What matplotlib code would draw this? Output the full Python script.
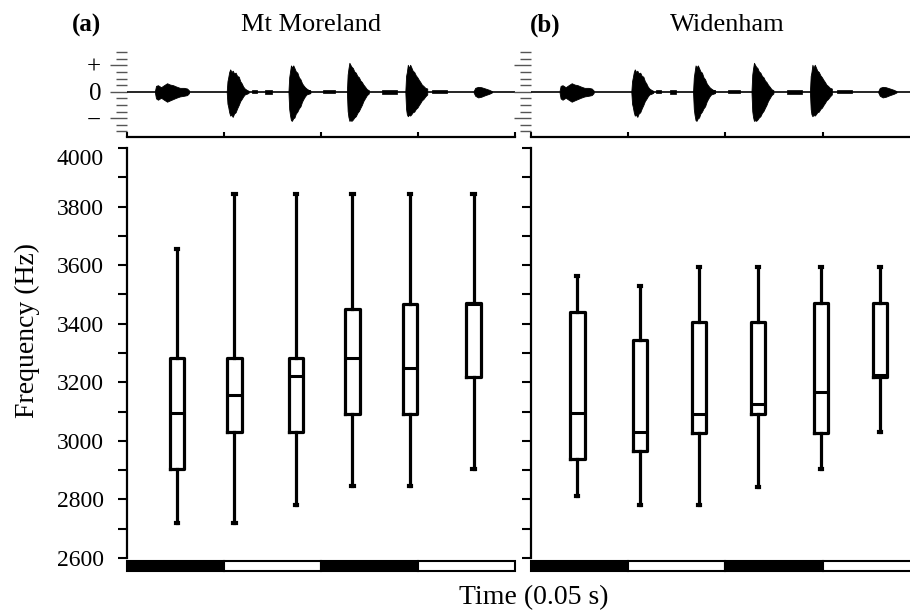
import matplotlib.pyplot as plt
import matplotlib.transforms as mtransforms
import numpy as np

plt.rcParams['font.family'] = ['Liberation Serif', 'DejaVu Serif']

# ---------------- data ----------------
sites = ['Mt Moreland', 'Widenham']
panel_tags = ['(a)', '(b)']

# box positions (s) and five-number summaries (Hz)
moreland_pos = [0.0258, 0.0555, 0.0873, 0.1163, 0.1460, 0.1787]
moreland_lo = [2720, 2720, 2780, 2845, 2845, 2905]
moreland_q1 = [2905, 3030, 3030, 3092, 3092, 3218]
moreland_med = [3095, 3155, 3220, 3282, 3250, 3466]
moreland_q3 = [3282, 3282, 3282, 3450, 3467, 3472]
moreland_hi = [3655, 3843, 3843, 3843, 3843, 3843]

widenham_pos = [0.0237, 0.0560, 0.0864, 0.1167, 0.1492, 0.1797]
widenham_lo = [2812, 2781, 2781, 2842, 2904, 3029]
widenham_q1 = [2937, 2966, 3028, 3092, 3028, 3219]
widenham_med = [3094, 3029, 3092, 3125, 3168, 3225]
widenham_q3 = [3439, 3345, 3407, 3407, 3470, 3470]
widenham_hi = [3563, 3530, 3593, 3593, 3593, 3593]

# time bar under the boxes (0.05 s per segment)
bar_colors = ['black', 'white', 'black', 'white']

# waveform envelope of the six notes: times (s), upper and lower amplitude
note_t = [
    [.0146, .0151, .0161, .0177, .0192, .0208, .0223, .0239, .0255, .0274, .0295, .0311, .0321],
    [.0515, .0519, .0523, .0528, .0533, .0540, .0546, .0553, .0561, .0569, .0577, .0585, .0592, .0600, .0608, .0618, .0628],
    [.0833, .0837, .0841, .0846, .0851, .0858, .0864, .0871, .0879, .0887, .0895, .0903, .0910, .0918, .0926, .0936, .0946],
    [.1134, .1138, .1142, .1147, .1152, .1158, .1165, .1172, .1180, .1188, .1196, .1204, .1211, .1219, .1227, .1237, .1247],
    [.1435, .1439, .1443, .1448, .1453, .1460, .1466, .1473, .1481, .1489, .1497, .1505, .1512, .1520, .1528, .1538, .1548],
    [.1787, .1795, .1810, .1826, .1847, .1867, .1881],
]
note_up = [
    [0.2, 0.9, 1.0, 0.7, 1.0, 1.3, 1.1, 1.0, 0.8, 0.6, 0.6, 0.5, 0.2],
    [0.0, 1.6, 2.2, 3.0, 3.4, 3.0, 3.2, 2.8, 2.9, 2.4, 2.3, 1.6, 1.3, 0.8, 0.5, 0.3, 0.15],
    [0.0, 2.2, 3.0, 4.0, 3.7, 4.0, 3.6, 3.1, 2.9, 2.2, 1.9, 1.3, 1.0, 0.7, 0.5, 0.3, 0.2],
    [0.0, 2.6, 3.5, 4.4, 4.1, 3.8, 3.6, 3.1, 2.9, 2.4, 2.2, 1.7, 1.5, 1.1, 0.8, 0.4, 0.25],
    [0.0, 2.4, 3.0, 4.1, 3.6, 4.1, 3.7, 3.2, 3.0, 2.5, 2.2, 1.8, 1.5, 1.1, 0.9, 0.6, 0.5],
    [0.1, 0.6, 0.75, 0.7, 0.5, 0.3, 0.1],
]
note_lo = [
    [0.2, 1.0, 1.2, 0.9, 1.2, 1.5, 1.3, 1.1, 0.9, 0.7, 0.6, 0.5, 0.2],
    [0.0, 1.8, 2.3, 3.1, 3.6, 3.5, 3.8, 3.3, 3.1, 2.5, 2.0, 1.4, 1.1, 0.7, 0.4, 0.3, 0.15],
    [0.0, 2.6, 3.5, 4.3, 4.4, 4.0, 3.9, 3.3, 3.0, 2.5, 2.2, 1.5, 1.1, 0.7, 0.4, 0.3, 0.2],
    [0.0, 2.9, 3.8, 4.4, 4.3, 4.4, 4.2, 3.9, 3.7, 3.2, 2.9, 2.4, 2.0, 1.4, 1.0, 0.5, 0.25],
    [0.0, 2.6, 3.4, 3.7, 3.5, 3.6, 3.4, 3.1, 3.0, 2.6, 2.4, 2.0, 1.7, 1.3, 1.1, 0.7, 0.4],
    [0.1, 0.6, 0.85, 0.75, 0.5, 0.3, 0.1],
]
# small noise bursts between notes: start, end, amplitude
bits_t0 = [.0644, .0713, .0893, .1012, .1316, .1574]
bits_t1 = [.0670, .0747, .0945, .1073, .1393, .1651]
bits_amp = [0.25, 0.35, 0.25, 0.25, 0.3, 0.25]

# ---------------- figure ----------------
fig = plt.figure(figsize=(9.1, 6.15), dpi=100)
W, H = 910.0, 615.0

panel_x0 = [126.7, 531.3]
panel_w = 388.3
box_data = [
    (moreland_pos, moreland_lo, moreland_q1, moreland_med, moreland_q3, moreland_hi),
    (widenham_pos, widenham_lo, widenham_q1, widenham_med, widenham_q3, widenham_hi),
]
title_x = [310.8, 727.5]
tag_x = [86.7, 545]

for k in range(2):
    x0 = panel_x0[k] / W
    w = panel_w / W

    # ---- box plot axes ----
    ax = fig.add_axes([x0, 1 - 558 / H, w, (558 - 148) / H])
    pos, lo, q1, med, q3, hi = box_data[k]
    stats = []
    for i in range(len(pos)):
        stats.append({'whislo': lo[i], 'q1': q1[i], 'med': med[i],
                      'q3': q3[i], 'whishi': hi[i], 'fliers': []})
    ax.bxp(stats, positions=pos, widths=0.0075, capwidths=0.0012,
           showfliers=False, manage_ticks=False,
           boxprops=dict(color='black', linewidth=2.3),
           whiskerprops=dict(color='black', linewidth=2.3),
           capprops=dict(color='black', linewidth=3.0),
           medianprops=dict(color='black', linewidth=2.2))
    ax.set_xlim(0, 0.2)
    ax.set_ylim(2600, 4000)
    ax.set_xticks([])
    for s in ['top', 'right', 'bottom']:
        ax.spines[s].set_visible(False)
    ax.spines['left'].set_linewidth(1.6)
    ax.set_yticks(np.arange(2600, 4001, 100))
    ax.tick_params(axis='y', direction='out', length=6.5, width=1.5, pad=10,
                   labelsize=17)
    if k == 0:
        ax.set_yticklabels([str(v) if v % 200 == 0 else '' for v in range(2600, 4001, 100)])
        lab = ax.get_yticklabels()[-1]
        lab.set_transform(lab.get_transform() +
                          mtransforms.ScaledTranslation(0, -9 / 100, fig.dpi_scale_trans))
    else:
        ax.set_yticklabels([])

    # ---- time bar ----
    bx = fig.add_axes([x0, 1 - 571 / H, w, 10 / H])
    for i, c in enumerate(bar_colors):
        bx.barh(0.5, 0.05, left=i * 0.05, height=1, color=c, edgecolor='black',
                linewidth=1.5, clip_on=False)
    bx.set_xlim(0, 0.2)
    bx.set_ylim(0, 1)
    bx.axis('off')

    # ---- waveform axes ----
    wx = fig.add_axes([x0, 1 - 136.7 / H, w, (136.7 - 40) / H])
    wx.axhline(0, color='black', linewidth=1.2)
    for t, up, dn in zip(note_t, note_up, note_lo):
        wx.fill_between(t, up, [-d for d in dn], color='black', linewidth=0.6)
    for a, b, amp in zip(bits_t0, bits_t1, bits_amp):
        wx.fill_between([a, b], [amp, amp], [-amp, -amp], color='black', linewidth=0.5)
    wx.set_xlim(0, 0.2)
    wx.set_ylim(-6.8, 7.85)
    for s in ['top', 'right', 'left']:
        wx.spines[s].set_visible(False)
    wx.spines['bottom'].set_linewidth(1.6)
    wx.set_xticks([0, 0.05, 0.1, 0.15, 0.2])
    wx.set_xticklabels([])
    wx.tick_params(axis='x', direction='in', length=3.5, width=1.5)
    wx.set_yticks([-4, 0, 4])
    wx.set_yticks(np.arange(-6, 7, 1), minor=True)
    wx.tick_params(axis='y', which='major', direction='out', length=12.5, width=1.0,
                   color='#555555', pad=6, labelsize=18)
    wx.tick_params(axis='y', which='minor', direction='out', length=8, width=1.0,
                   color='#555555')
    if k == 0:
        wx.set_yticklabels(['\u2212', '0', '+'])
    else:
        wx.set_yticklabels([])

    fig.text(title_x[k] / W, 1 - 25 / H, sites[k], ha='center', va='center', fontsize=19)
    fig.text(tag_x[k] / W, 1 - 25 / H, panel_tags[k], ha='center', va='center',
             fontsize=18, fontweight='bold')

fig.text(27 / W, 1 - 330 / H, 'Frequency (Hz)', rotation=90, ha='center', va='center',
         fontsize=20)
fig.text(534 / W, 1 - 598 / H, 'Time (0.05 s)', ha='center', va='center', fontsize=20)

fig.savefig('out.png', dpi=100)
